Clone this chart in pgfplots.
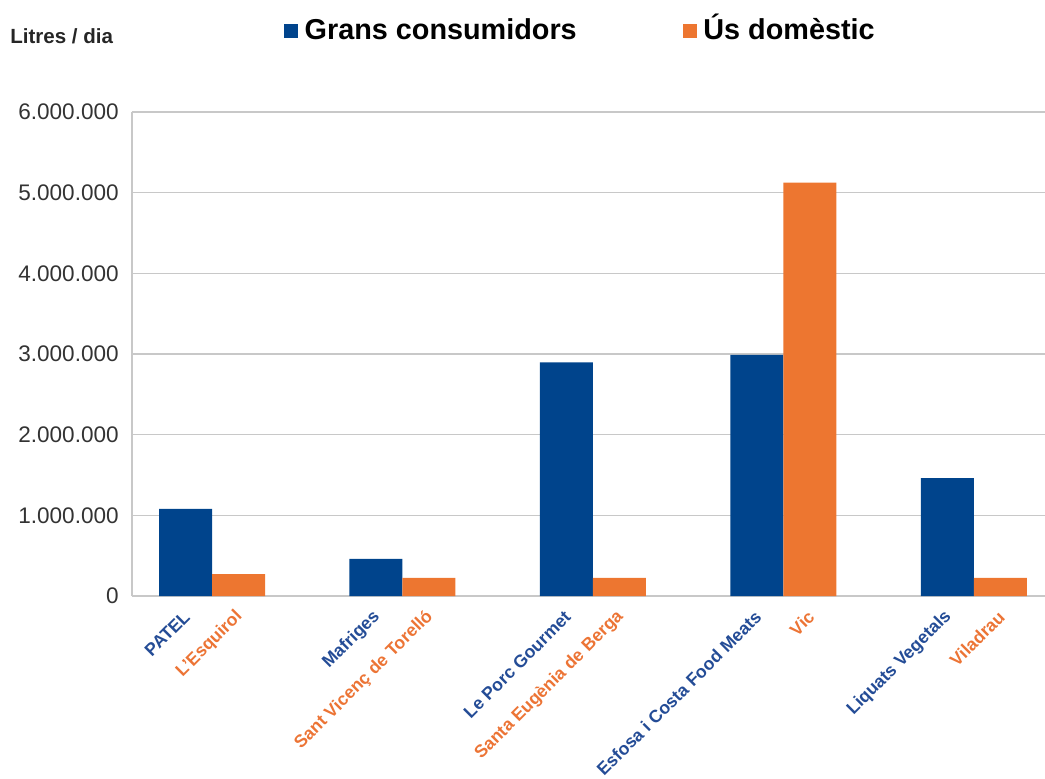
\documentclass[border=0pt]{standalone}
\usepackage{fontspec}
\setmainfont{Liberation Sans}
\usepackage{pgfplots}
\pgfplotsset{compat=1.18}
\definecolor{barblue}{HTML}{00448C}
\definecolor{barorange}{HTML}{ED7630}
\definecolor{lblblue}{HTML}{244C96}
\definecolor{lblorange}{HTML}{EC7435}
\definecolor{gridgray}{HTML}{C8C8C8}

\begin{document}
\begin{tikzpicture}
\begin{axis}[
  at={(0,0)}, anchor=south west,
  scale only axis, width=684.75pt, height=363pt,
  xmin=-0.42, xmax=4.373, ymin=0, ymax=6000000,
  clip=false,
  axis x line*=bottom, axis y line*=left,
  axis line style={gridgray, line width=1pt},
  ymajorgrids, grid style={gridgray, line width=1pt},
  major tick length=0pt,
  ytick={0,1000000,2000000,3000000,4000000,5000000,6000000},
  scaled y ticks=false,
  /pgf/number format/fixed,
  /pgf/number format/1000 sep={.},
  /pgf/number format/assume math mode=true,
  yticklabel style={font=\fontsize{16.9}{18}\selectfont, text=black!80, xshift=-6.5pt},
  xtick={-0.139,0.139,0.861,1.139,1.861,2.139,2.861,3.139,3.861,4.139},
  xticklabels={{\color{lblblue}PATEL},{\color{lblorange}L'Esquirol},
    {\color{lblblue}Mafriges},{\color{lblorange}Sant Vicenç de Torelló},
    {\color{lblblue}Le Porc Gourmet},{\color{lblorange}Santa Eugènia de Berga},
    {\color{lblblue}Esfosa i Costa Food Meats},{\color{lblorange}Vic},
    {\color{lblblue}Liquats Vegetals},{\color{lblorange}Viladrau}},
  % shifts are taken in the rotated frame
  xticklabel style={font=\bfseries\fontsize{13.2}{15}\selectfont, rotate=45, anchor=east, xshift=-5.5pt, yshift=-10.2pt},
  legend columns=2,
  legend style={at={(rel axis cs:0.1665,1.1350)}, anchor=south west, draw=none, fill=none,
    inner sep=0pt, outer sep=0pt,
    font=\bfseries\fontsize{21.6}{24}\selectfont,
    nodes={inner sep=0pt, text height=16pt, text depth=5pt},
    /tikz/every odd column/.append style={column sep=5pt},
    /tikz/every even column/.append style={column sep=79.5pt}},
]
\addplot[ybar, bar width=39.75pt, bar shift=-19.875pt, fill=barblue, draw=none,
  legend image code/.code={\fill[barblue] (0pt,-4pt) rectangle (10.5pt,6.5pt);}]
  coordinates {(0,1080000) (1,460000) (2,2895000) (3,2990000) (4,1460000)};
\addlegendentry{Grans consumidors}
\addplot[ybar, bar width=39.75pt, bar shift=19.875pt, fill=barorange, draw=none,
  legend image code/.code={\fill[barorange] (0pt,-4pt) rectangle (10.5pt,6.5pt);}]
  coordinates {(0,270000) (1,225000) (2,225000) (3,5125000) (4,225000)};
\addlegendentry{Ús domèstic}
\node[anchor=base west, inner sep=0pt, font=\bfseries\fontsize{15.4}{17}\selectfont, text=black!85]
  at (rel axis cs:-0.1336,1.1405) {Litres / dia};
\end{axis}
\pgfresetboundingbox
\path (-99pt,-136.5pt) rectangle (684.75pt,447pt);
\end{tikzpicture}
\end{document}
